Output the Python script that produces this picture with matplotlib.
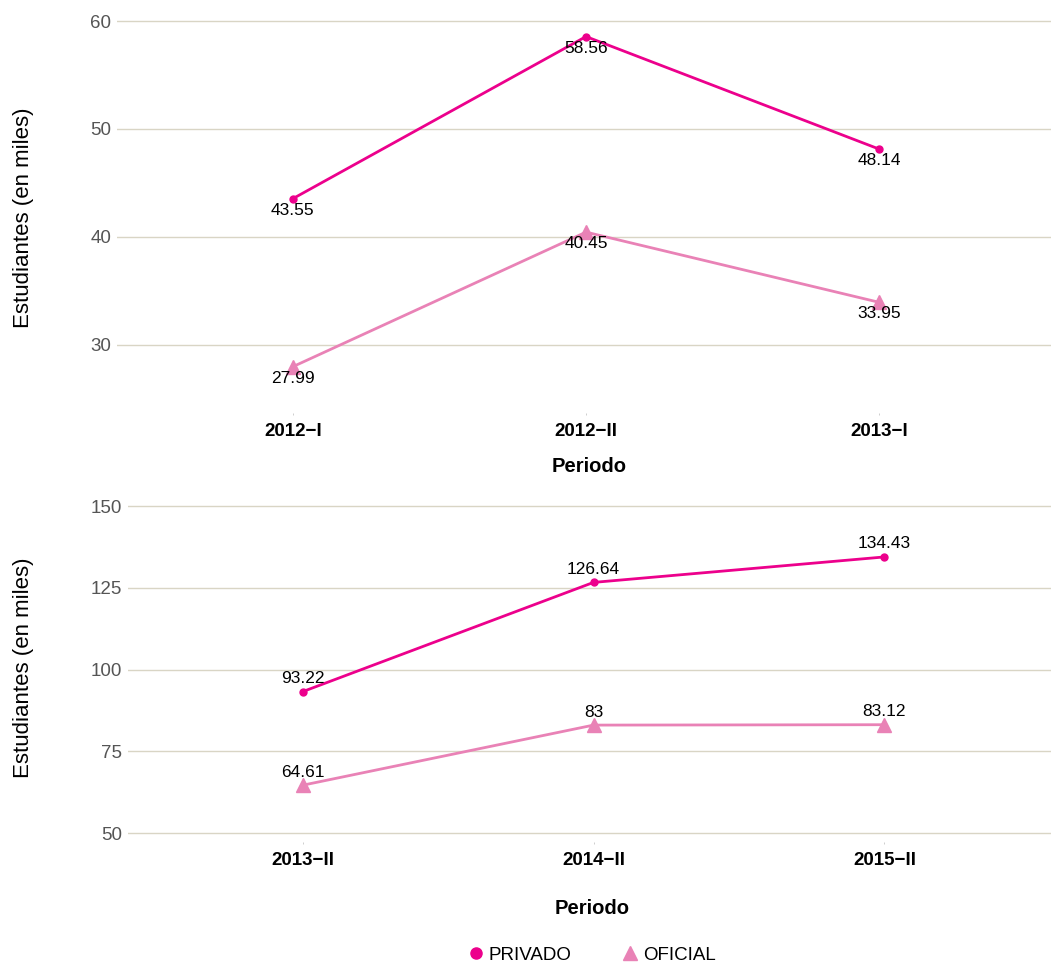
#!/usr/bin/env python3
"""Estudiantes por periodo (privado vs oficial), dos paneles."""

import matplotlib

matplotlib.use("Agg")
import matplotlib.pyplot as plt
from matplotlib.lines import Line2D

# --- data -------------------------------------------------------------
periods_top = ["2012\u2212I", "2012\u2212II", "2013\u2212I"]
privado_top = [43.55, 58.56, 48.14]
oficial_top = [27.99, 40.45, 33.95]

periods_bottom = ["2013\u2212II", "2014\u2212II", "2015\u2212II"]
privado_bottom = [93.22, 126.64, 134.43]
oficial_bottom = [64.61, 83.00, 83.12]

yticks_top = [30, 40, 50, 60]
yticks_bottom = [50, 75, 100, 125, 150]

# --- style ------------------------------------------------------------
C_PRIV = "#EC008C"
C_OFIC = "#E982B6"
C_GRID = "#D9D5C5"
W, H = 1051, 968

plt.rcParams["font.family"] = ["Liberation Sans", "DejaVu Sans"]


def fmt(v: float) -> str:
    return f"{v:.2f}".rstrip("0").rstrip(".")


def panel(rect, periods, priv, ofic, yticks, ylim, label_dy, label_va):
    left, top, right, bottom = rect
    ax = fig.add_axes([left / W, 1 - bottom / H, (right - left) / W, (bottom - top) / H])
    x = list(range(len(periods)))
    ax.plot(x, priv, color=C_PRIV, lw=2.0, marker="o", ms=5, zorder=3)
    ax.plot(x, ofic, color=C_OFIC, lw=2.0, marker="^", ms=10, zorder=3)
    for ys in (priv, ofic):
        for xi, yi in zip(x, ys):
            ax.annotate(fmt(yi), (xi, yi), xytext=(0, label_dy), textcoords="offset points",
                        ha="center", va=label_va, fontsize=12.5, color="black", zorder=4)
    ax.set_xlim(-0.6, 2.6)
    ax.set_ylim(*ylim)
    ax.set_xticks(x)
    ax.set_xticklabels(periods, fontsize=13.5, fontweight="bold")
    ax.set_yticks(yticks)
    ax.set_yticklabels([str(t) for t in yticks], fontsize=13.5, color="#555555")
    ax.yaxis.grid(True, color=C_GRID, lw=1.0)
    ax.set_axisbelow(True)
    for s in ax.spines.values():
        s.set_visible(False)
    ax.tick_params(axis="y", length=0, pad=4)
    ax.tick_params(axis="x", length=1.2, width=0.5, color="#BBBBBB", pad=6)
    return ax


fig = plt.figure(figsize=(W / 100, H / 100), dpi=100)

panel((117, 10, 1055, 413), periods_top, privado_top, oficial_top,
      yticks_top, (23.7, 61.02), -3, "top")
panel((128, 490, 1059, 842), periods_bottom, privado_bottom, oficial_bottom,
      yticks_bottom, (47.25, 154.9), 4, "bottom")

for cy in (218, 668):
    fig.text(23 / W, 1 - cy / H, "Estudiantes (en miles)", rotation=90,
             ha="center", va="center", fontsize=16)
for cx, cy in ((589, 466), (592, 908)):
    fig.text(cx / W, 1 - cy / H, "Periodo", ha="center", va="center",
             fontsize=14.5, fontweight="bold")

handles = [
    Line2D([], [], color=C_PRIV, marker="o", ls="none", ms=8, label="PRIVADO"),
    Line2D([], [], color=C_OFIC, marker="^", ls="none", ms=10, label="OFICIAL"),
]
fig.legend(handles=handles, ncol=2, frameon=False, loc="center",
           bbox_to_anchor=(591 / W, 1 - 955 / H), fontsize=13.5,
           handletextpad=0.2, columnspacing=2.6, handlelength=1.0)

fig.savefig("out.png", dpi=100)
